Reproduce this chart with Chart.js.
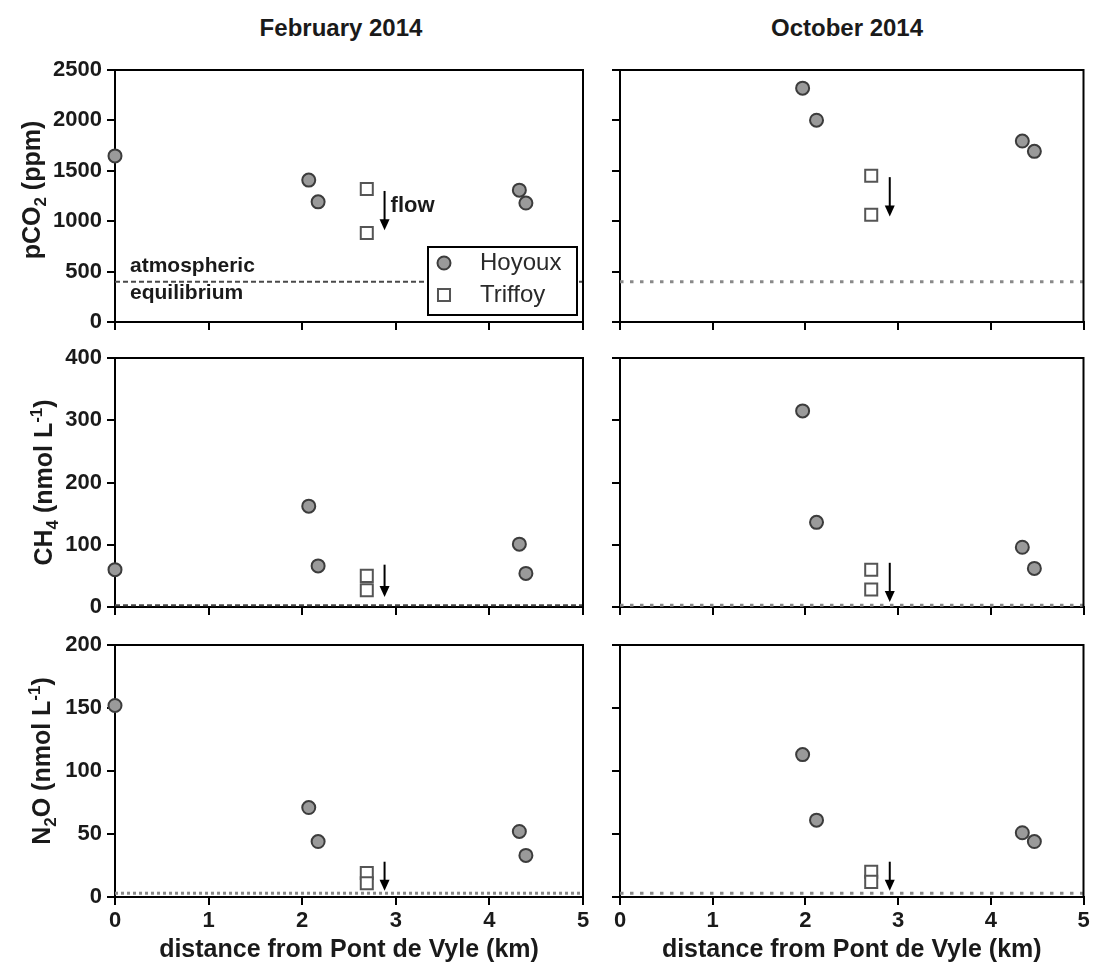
<!DOCTYPE html>
<html>
<head>
<meta charset="utf-8">
<script src="https://cdn.jsdelivr.net/npm/chart.js@4/dist/chart.umd.min.js"></script>
<style>
  html, body { margin: 0; padding: 0; background: #fff; }
  body { width: 1094px; height: 969px; position: relative; overflow: hidden; }
  canvas { position: absolute; }
  .ttl { position: absolute; top: 14px; font: bold 24px "Liberation Sans", Arial, sans-serif; color: #1a1a1a; transform: translateX(-50%); white-space: nowrap; }
</style>
</head>
<body>
<div class="ttl" id="t1" style="left:341px">February 2014</div>
<div class="ttl" id="t2" style="left:847px">October 2014</div>
<canvas id="c11"></canvas>
<canvas id="c12"></canvas>
<canvas id="c21"></canvas>
<canvas id="c22"></canvas>
<canvas id="c31"></canvas>
<canvas id="c32"></canvas>
<script>
// ---------------- DATA ----------------
const columnTitles = ['February 2014', 'October 2014'];
const seriesNames = ['Hoyoux', 'Triffoy'];
const xTicks = [0, 1, 2, 3, 4, 5];

// distances (km)
const distFebHoyoux = [0, 2.07, 2.17, 4.32, 4.39];
const distFebTriffoy = [2.69, 2.69];
const distOctHoyoux = [1.97, 2.12, 4.34, 4.47];
const distOctTriffoy = [2.71, 2.71];

// pCO2 (ppm)
const pco2FebHoyoux = [1648, 1408, 1192, 1308, 1180];
const pco2FebTriffoy = [1320, 884];
const pco2OctHoyoux = [2320, 2002, 1795, 1693];
const pco2OctTriffoy = [1452, 1063];

// CH4 (nmol L-1)
const ch4FebHoyoux = [60, 162, 66, 101, 54];
const ch4FebTriffoy = [50, 27];
const ch4OctHoyoux = [315, 136, 96, 62];
const ch4OctTriffoy = [60, 28];

// N2O (nmol L-1)
const n2oFebHoyoux = [152, 71, 44, 52, 33];
const n2oFebTriffoy = [19, 11];
const n2oOctHoyoux = [113, 61, 51, 44];
const n2oOctTriffoy = [20, 12];

// atmospheric equilibrium levels [pCO2, CH4, N2O]
const equilibrium = [400, 3, 3];

// flow arrows: x position and from/to values per panel row [pCO2, CH4, N2O]
const arrowXFeb = 2.88;
const arrowXOct = 2.91;
const arrowFeb = [[1300, 910], [68, 16], [28, 5]];
const arrowOct = [[1437, 1046], [71, 8], [28, 5]];

// y axis ranges [min, max, step]
const yPco2 = [0, 2500, 500];
const yCh4 = [0, 400, 100];
const yN2o = [0, 200, 50];

// ---------------- STYLE ----------------
const FONT = '"Liberation Sans", Arial, sans-serif';
const TXT = '#1a1a1a';

function pts(xs, ys) { return xs.map((x, i) => ({ x: x, y: ys[i] })); }

function richText(ctx, segs, cx, cy, size, rotate) {
  ctx.save();
  ctx.translate(cx, cy);
  if (rotate) ctx.rotate(-Math.PI / 2);
  let total = 0;
  const parts = segs.map(s => {
    const fs = (s.sub || s.sup) ? Math.round(size * 0.68) : size;
    ctx.font = 'bold ' + fs + 'px ' + FONT;
    const w = ctx.measureText(s.t).width;
    total += w;
    return { t: s.t, sub: s.sub, sup: s.sup, fs: fs, w: w };
  });
  let x = -total / 2;
  ctx.textAlign = 'left';
  ctx.textBaseline = 'alphabetic';
  ctx.fillStyle = TXT;
  for (const p of parts) {
    ctx.font = 'bold ' + p.fs + 'px ' + FONT;
    const dy = p.sub ? size * 0.22 : (p.sup ? -size * 0.42 : 0);
    ctx.fillText(p.t, x, dy);
    x += p.w;
  }
  ctx.restore();
}

const framePlugin = {
  id: 'frame',
  afterDraw(chart, args, o) {
    const ctx = chart.ctx, a = chart.chartArea;
    const xs = chart.scales.x, ys = chart.scales.y;
    ctx.save();
    // top and right frame lines
    ctx.strokeStyle = '#000';
    ctx.lineWidth = 2;
    ctx.beginPath();
    ctx.moveTo(a.left, a.top);
    ctx.lineTo(a.right, a.top);
    ctx.lineTo(a.right, a.bottom);
    ctx.stroke();
    // flow arrow
    if (o.arrow) {
      const ax = xs.getPixelForValue(o.arrow.x);
      const y0 = ys.getPixelForValue(o.arrow.from);
      const y1 = ys.getPixelForValue(o.arrow.to);
      ctx.strokeStyle = '#000';
      ctx.fillStyle = '#000';
      ctx.lineWidth = 2;
      ctx.beginPath();
      ctx.moveTo(ax, y0);
      ctx.lineTo(ax, y1 - 8);
      ctx.stroke();
      ctx.beginPath();
      ctx.moveTo(ax - 5, y1 - 11);
      ctx.lineTo(ax + 5, y1 - 11);
      ctx.lineTo(ax, y1);
      ctx.closePath();
      ctx.fill();
      if (o.arrow.label) {
        ctx.font = 'bold 22px ' + FONT;
        ctx.textAlign = 'left';
        ctx.textBaseline = 'middle';
        ctx.fillStyle = TXT;
        ctx.fillText(o.arrow.label, ax + 6, y0 + 15);
      }
    }
    // equilibrium label
    if (o.eqLabel) {
      const ly = ys.getPixelForValue(o.eqLabel.value);
      const lx = xs.getPixelForValue(o.eqLabel.x);
      ctx.font = 'bold 21px ' + FONT;
      ctx.textAlign = 'left';
      ctx.textBaseline = 'middle';
      ctx.fillStyle = TXT;
      ctx.fillText(o.eqLabel.lines[0], lx, ly - 15);
      ctx.fillText(o.eqLabel.lines[1], lx, ly + 12);
    }
    // legend
    if (o.legend) {
      const w = 149, h = 68;
      const r = a.right - 6, b = a.bottom - 7;
      const l = r - w, t = b - h;
      ctx.fillStyle = '#fff';
      ctx.fillRect(l, t, w, h);
      ctx.strokeStyle = '#000';
      ctx.lineWidth = 2;
      ctx.strokeRect(l, t, w, h);
      const dsets = chart.data.datasets.filter(d => d.inLegend);
      dsets.forEach((d, i) => {
        const cy = t + 16 + i * 32;
        const cx = l + 16;
        ctx.beginPath();
        ctx.lineWidth = d.pointBorderWidth;
        ctx.strokeStyle = d.pointBorderColor;
        ctx.fillStyle = d.pointBackgroundColor;
        if (d.pointStyle === 'circle') {
          ctx.arc(cx, cy, d.pointRadius, 0, Math.PI * 2);
        } else {
          const s = d.pointRadius * Math.SQRT1_2;
          ctx.rect(cx - s, cy - s, 2 * s, 2 * s);
        }
        ctx.fill();
        ctx.stroke();
        ctx.font = '24px ' + FONT;
        ctx.textAlign = 'left';
        ctx.textBaseline = 'middle';
        ctx.fillStyle = '#2a2a2a';
        ctx.fillText(d.label, l + 52, cy);
      });
    }
    // y axis title
    if (o.yTitle) {
      richText(ctx, o.yTitle.segs, o.yTitle.x, (a.top + a.bottom) / 2 + o.yTitle.dy, o.yTitle.size, true);
    }
    ctx.restore();
  }
};

function makePanel(id, p) {
  const cv = document.getElementById(id);
  cv.width = p.w; cv.height = p.h;
  cv.style.left = p.left + 'px';
  cv.style.top = p.top + 'px';
  cv.style.width = p.w + 'px';
  cv.style.height = p.h + 'px';
  const eqDash = p.eqStyle === 'dash' ? [5, 3] : (p.eqStyle === 'dotfine' ? [3, 3] : [3.5, 6.5]);
  const eqColor = p.eqStyle === 'dash' ? '#4a4a4a' : '#8a8a8a';
  const eqWidth = p.eqStyle === 'dash' ? 2 : 3;
  return new Chart(cv, {
    type: 'scatter',
    data: {
      datasets: [
        {
          type: 'line', label: 'equilibrium',
          data: [{ x: 0, y: p.eq }, { x: 5, y: p.eq }],
          borderColor: eqColor, borderWidth: eqWidth, borderDash: eqDash,
          pointRadius: 0, fill: false, clip: false, order: 3
        },
        {
          label: seriesNames[0], inLegend: true,
          data: pts(p.hx, p.hy),
          pointStyle: 'circle', pointRadius: 6.5,
          pointBackgroundColor: '#9a9a9a', pointBorderColor: '#3c3c3c', pointBorderWidth: 2,
          backgroundColor: '#9a9a9a', borderColor: '#3c3c3c',
          clip: false, order: 1
        },
        {
          label: seriesNames[1], inLegend: true,
          data: pts(p.tx, p.ty),
          pointStyle: 'rect', pointRadius: 8.5,
          pointBackgroundColor: '#ffffff', pointBorderColor: '#555555', pointBorderWidth: 2,
          backgroundColor: '#ffffff', borderColor: '#555555',
          clip: false, order: 2
        }
      ]
    },
    options: {
      responsive: false,
      animation: false,
      events: [],
      layout: { padding: { top: p.padTop, right: p.padRight, left: 0, bottom: 0 } },
      plugins: {
        legend: { display: false },
        tooltip: { enabled: false },
        frame: { arrow: p.arrow, eqLabel: p.eqLabel, legend: p.legend, yTitle: p.yTitle }
      },
      scales: {
        x: {
          type: 'linear', min: 0, max: 5,
          afterBuildTicks: s => { s.ticks = xTicks.map(v => ({ value: v })); },
          ticks: {
            display: p.showX, font: { family: FONT, size: 22, weight: 'bold' }, color: TXT, padding: 3,
            callback: v => String(v)
          },
          grid: { drawOnChartArea: false, drawTicks: true, tickLength: 8, color: '#000', lineWidth: 2 },
          border: { display: true, color: '#000', width: 2 },
          title: {
            display: p.showX, text: 'distance from Pont de Vyle (km)',
            font: { family: FONT, size: 25, weight: 'bold' }, color: TXT,
            padding: { top: 0, bottom: 4 }
          },
          afterFit: s => { s.height = p.xh; }
        },
        y: {
          type: 'linear', min: p.yr[0], max: p.yr[1],
          ticks: {
            stepSize: p.yr[2], display: p.showY,
            font: { family: FONT, size: 22, weight: 'bold' }, color: TXT, padding: 5,
            callback: v => String(v)
          },
          grid: { drawOnChartArea: false, drawTicks: true, tickLength: 8, color: '#000', lineWidth: 2 },
          border: { display: true, color: '#000', width: 2 },
          afterFit: s => { s.width = p.yw; }
        }
      }
    },
    plugins: [framePlugin]
  });
}

const L = { left: 0, w: 600, yw: 115, padRight: 17, showY: true };
const R = { left: 600, w: 494, yw: 20, padRight: 7, showY: false };
const rows = [
  { top: 40, h: 305, padTop: 30, xh: 23, showX: false },
  { top: 325, h: 305, padTop: 33, xh: 23, showX: false },
  { top: 615, h: 354, padTop: 30, xh: 72, showX: true }
];

makePanel('c11', Object.assign({}, L, rows[0], {
  yr: yPco2, hx: distFebHoyoux, hy: pco2FebHoyoux, tx: distFebTriffoy, ty: pco2FebTriffoy,
  eq: equilibrium[0], eqStyle: 'dash',
  arrow: { x: arrowXFeb, from: arrowFeb[0][0], to: arrowFeb[0][1], label: 'flow' },
  eqLabel: { x: 0.16, value: equilibrium[0], lines: ['atmospheric', 'equilibrium'] },
  legend: true,
  yTitle: { segs: [{ t: 'pCO' }, { t: '2', sub: true }, { t: ' (ppm)' }], x: 40, dy: -6, size: 25 }
}));
makePanel('c12', Object.assign({}, R, rows[0], {
  yr: yPco2, hx: distOctHoyoux, hy: pco2OctHoyoux, tx: distOctTriffoy, ty: pco2OctTriffoy,
  eq: equilibrium[0], eqStyle: 'dot',
  arrow: { x: arrowXOct, from: arrowOct[0][0], to: arrowOct[0][1] }
}));
makePanel('c21', Object.assign({}, L, rows[1], {
  yr: yCh4, hx: distFebHoyoux, hy: ch4FebHoyoux, tx: distFebTriffoy, ty: ch4FebTriffoy,
  eq: equilibrium[1], eqStyle: 'dash',
  arrow: { x: arrowXFeb, from: arrowFeb[1][0], to: arrowFeb[1][1] },
  yTitle: { segs: [{ t: 'CH' }, { t: '4', sub: true }, { t: ' (nmol L' }, { t: '-1', sup: true }, { t: ')' }], x: 52, dy: 0, size: 25 }
}));
makePanel('c22', Object.assign({}, R, rows[1], {
  yr: yCh4, hx: distOctHoyoux, hy: ch4OctHoyoux, tx: distOctTriffoy, ty: ch4OctTriffoy,
  eq: equilibrium[1], eqStyle: 'dot',
  arrow: { x: arrowXOct, from: arrowOct[1][0], to: arrowOct[1][1] }
}));
makePanel('c31', Object.assign({}, L, rows[2], {
  yr: yN2o, hx: distFebHoyoux, hy: n2oFebHoyoux, tx: distFebTriffoy, ty: n2oFebTriffoy,
  eq: equilibrium[2], eqStyle: 'dotfine',
  arrow: { x: arrowXFeb, from: arrowFeb[2][0], to: arrowFeb[2][1] },
  yTitle: { segs: [{ t: 'N' }, { t: '2', sub: true }, { t: 'O (nmol L' }, { t: '-1', sup: true }, { t: ')' }], x: 50, dy: -10, size: 25 }
}));
makePanel('c32', Object.assign({}, R, rows[2], {
  yr: yN2o, hx: distOctHoyoux, hy: n2oOctHoyoux, tx: distOctTriffoy, ty: n2oOctTriffoy,
  eq: equilibrium[2], eqStyle: 'dot',
  arrow: { x: arrowXOct, from: arrowOct[2][0], to: arrowOct[2][1] }
}));
</script>
</body>
</html>
